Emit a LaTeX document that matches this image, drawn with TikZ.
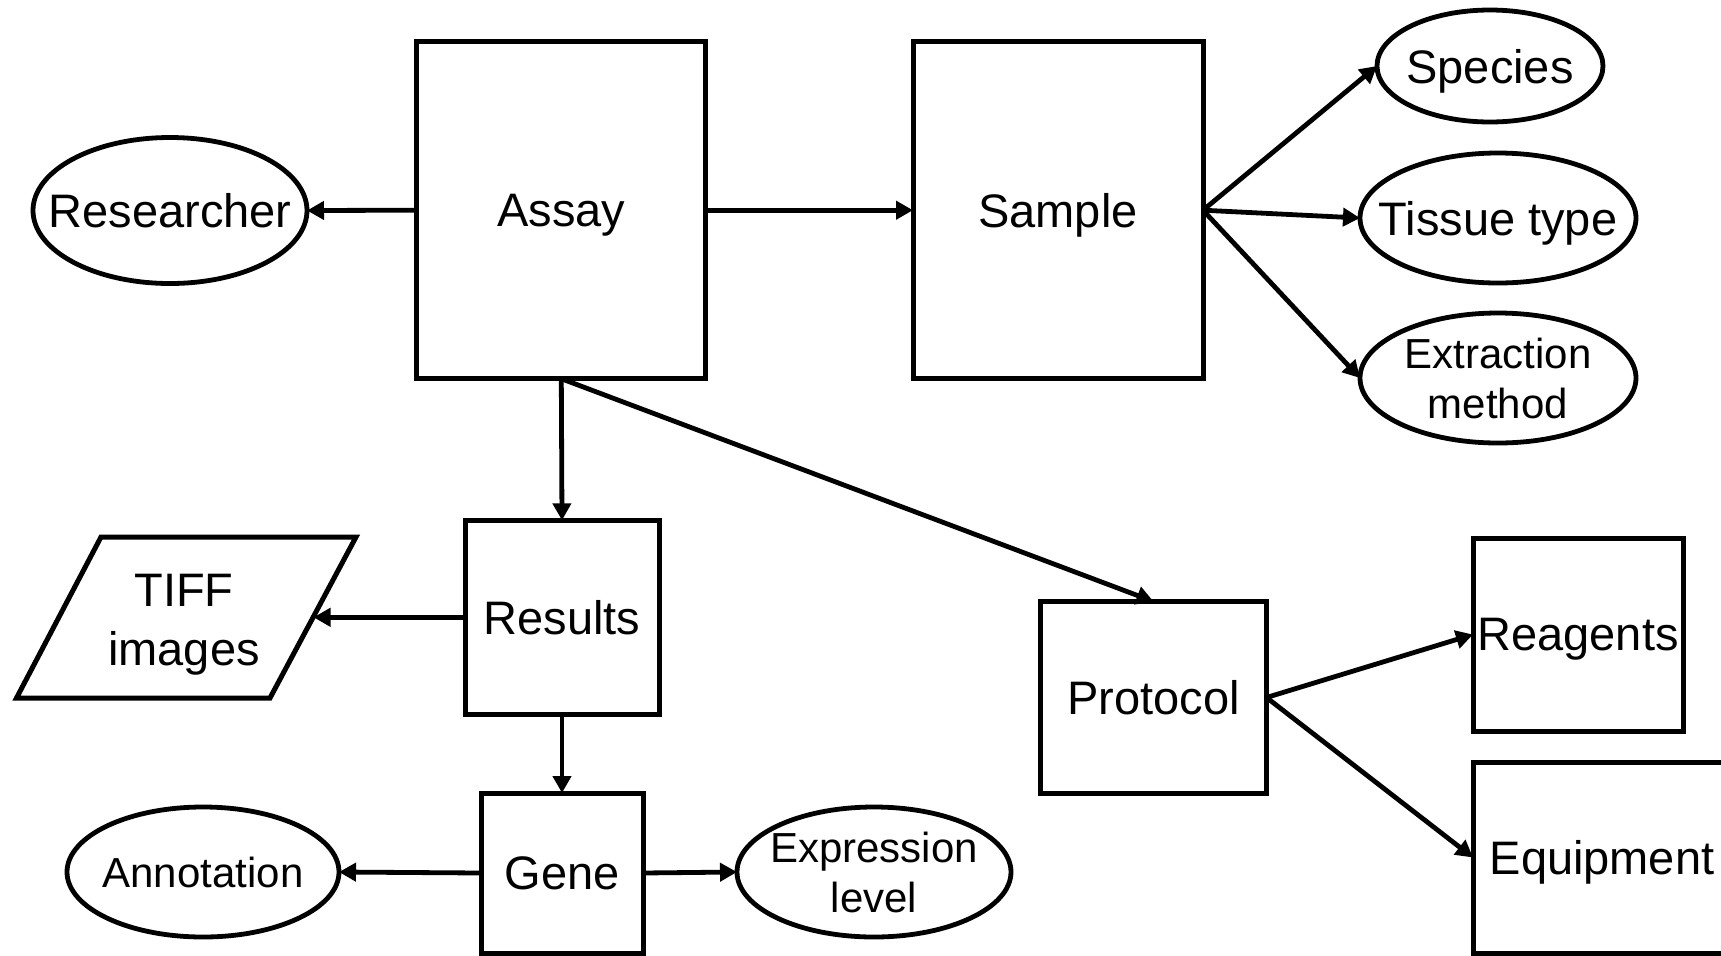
\documentclass[tikz,border=0pt]{standalone}
\usepackage{fontspec}
\setmainfont{Liberation Sans}
\usetikzlibrary{shapes.geometric,arrows.meta}
\begin{document}
\begin{tikzpicture}[x=0.5pt,y=-0.5pt,
  bigfont/.style={font=\fontsize{23.5pt}{29.5pt}\selectfont, text depth=0pt},
  smallfont/.style={font=\fontsize{21pt}{25pt}\selectfont, text depth=0pt},
  entity/.style={draw, rectangle, line width=2.5pt, inner sep=0pt, outer sep=0pt, bigfont, align=center},
  attr/.style={draw, ellipse, line width=2.4pt, inner sep=0pt, outer sep=0pt},
  conn/.style={line width=2.4pt, -{Triangle[length=8.5pt,width=9pt]}}
]
\useasboundingbox (0,0) rectangle (1721,955);
\clip (0,0) rectangle (1721,955);

% entity boxes
\node[entity, minimum width=144.5pt, minimum height=168.5pt] (assay) at (561.3,210.2) {Assay};
\node[entity, minimum width=145pt, minimum height=168.5pt] (sample) at (1058,210.2) {Sample};
\node[entity, minimum width=97pt, minimum height=97pt] (results) at (562,617.3) {Results};
\node[entity, minimum width=81pt, minimum height=80pt] (gene) at (562,873) {Gene};
\node[entity, minimum width=113pt, minimum height=96pt] (protocol) at (1153.5,697.5) {Protocol};
\node[entity, minimum width=105pt, minimum height=96.5pt] (reagents) at (1578,634.5) {Reagents};
\node[entity, minimum width=129pt, minimum height=95.5pt] (equipment) at (1602,857.5) {Equipment};

% attribute ellipses
\node[attr, minimum width=137pt, minimum height=73pt, label={[bigfont]center:Researcher}] (researcher) at (170,210.5) {};
\node[attr, minimum width=113pt, minimum height=56pt, label={[bigfont]center:Species}] (species) at (1490,66) {};
\node[attr, minimum width=138pt, minimum height=65pt, label={[bigfont]center:Tissue type}] (tissue) at (1498,218) {};
\node[attr, minimum width=138pt, minimum height=65pt, label={[smallfont,align=center]center:Extraction\\method}] (extraction) at (1498,378) {};
\node[attr, minimum width=136pt, minimum height=65pt, label={[smallfont]center:Annotation}] (annotation) at (203,872) {};
\node[attr, minimum width=137pt, minimum height=65pt, label={[smallfont,align=center]center:Expression\\level}] (expression) at (874,872) {};

% TIFF images parallelogram
\node[bigfont, align=center] (tiff) at (184,620) {TIFF\\images};
\draw[line width=2.5pt, line join=miter] (101,537) -- (356,537) -- (270,698) -- (16.5,698) -- cycle;
\coordinate (tiffedge) at (313.5,617.3);

% connectors
\draw[conn] (assay.west) -- (researcher.east);
\draw[conn] (assay.east) -- (sample.west);
\draw[conn] (sample.east) -- (species.west);
\draw[conn] (sample.east) -- (tissue.west);
\draw[conn] (sample.east) -- (extraction.west);
\draw[conn] (assay.south) -- (results.north);
\draw[conn] (assay.south) -- (protocol.north);
\draw[conn] (results.west) -- (tiffedge);
\draw[conn] (results.south) -- (gene.north);
\draw[conn] (gene.west) -- (annotation.east);
\draw[conn] (gene.east) -- (expression.west);
\draw[conn] (protocol.east) -- (reagents.west);
\draw[conn] (protocol.east) -- (equipment.west);
\end{tikzpicture}
\end{document}
